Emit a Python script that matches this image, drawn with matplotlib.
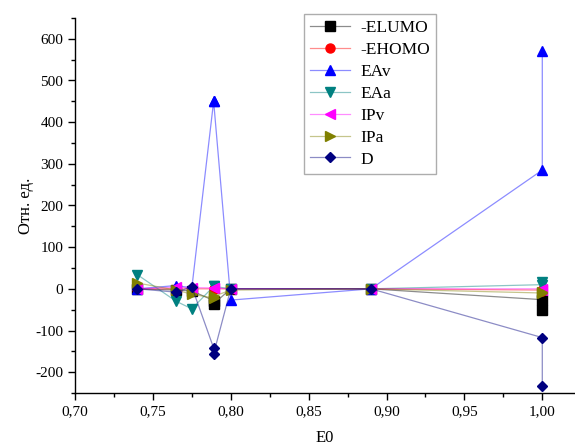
import matplotlib
matplotlib.use("Agg")
import matplotlib.pyplot as plt
import matplotlib.ticker as ticker
from matplotlib.colors import to_rgba

plt.rcParams['font.family'] = ['Liberation Serif', 'DejaVu Serif']

# E0 values (two points at 0.789 and at 1.00)
e0 = [0.74, 0.765, 0.775, 0.789, 0.789, 0.80, 0.89, 1.00, 1.00]

elumo = [0, -3, -5, -28, -36, 0, 0, -26, -50]
ehomo = [0, 0, 0, 0, 0, 0, 0, -3, -5]
eav = [0, 8, 2, 450, 450, -27, 0, 285, 570]
eaa = [34, -30, -48, 6, 6, 0, 0, 10, 17]
ipv = [0, 4, 3, 2, 2, 0, 0, 0, -2]
ipa = [14, -3, -13, -22, -18, -3, 0, -10, -8]
d = [0, -8, 5, -142, -156, 0, 0, -117, -232]

series = [
    ("-ELUMO", elumo, "s", "black"),
    ("-EHOMO", ehomo, "o", "red"),
    ("EAv", eav, "^", "blue"),
    ("EAa", eaa, "v", "#008080"),
    ("IPv", ipv, "<", "magenta"),
    ("IPa", ipa, ">", "#808000"),
    ("D", d, "D", "#000080"),
]

fig = plt.figure(figsize=(5.75, 4.48), dpi=100)
ax = fig.add_axes([75 / 575, 55 / 448, 500 / 575, 375 / 448])

for name, vals, mk, col in series:
    # thin pale line, solid marker (Origin look)
    ax.plot(e0, vals, color=to_rgba(col, 0.45), lw=0.9, marker=mk,
            ms=6.5 if mk != "D" else 5.5, mfc=col, mec=col, label=name)

ax.set_xlim(0.70, 1.021)
ax.set_ylim(-250, 650)

ax.xaxis.set_major_locator(ticker.MultipleLocator(0.05))
ax.xaxis.set_minor_locator(ticker.MultipleLocator(0.025))
ax.yaxis.set_major_locator(ticker.MultipleLocator(100))
ax.yaxis.set_minor_locator(ticker.MultipleLocator(50))
ax.xaxis.set_major_formatter(ticker.FuncFormatter(
    lambda v, p: f"{v:.2f}".replace(".", ",")))
ax.yaxis.set_major_formatter(ticker.FuncFormatter(
    lambda v, p: f"{v:.0f}"))

for s in ("top", "right"):
    ax.spines[s].set_visible(False)
ax.spines["left"].set_linewidth(1.0)
ax.spines["bottom"].set_linewidth(1.0)
ax.tick_params(which="major", length=5, width=1, labelsize=11, direction="out")
ax.tick_params(which="minor", length=3, width=1, direction="out")

ax.set_xlabel("E0", fontsize=12, labelpad=9)
ax.set_ylabel("Отн. ед.", fontsize=12, labelpad=1)

leg = ax.legend(loc="upper left", bbox_to_anchor=(304 / 575, 1 - 14 / 448),
                bbox_transform=fig.transFigure, borderaxespad=0,
                fontsize=12.5, frameon=True, fancybox=False,
                edgecolor="#999999", handlelength=2.3, labelspacing=0.33,
                handletextpad=0.6, borderpad=0.35)
leg.get_frame().set_linewidth(1.0)

fig.savefig("out.png", dpi=100)
